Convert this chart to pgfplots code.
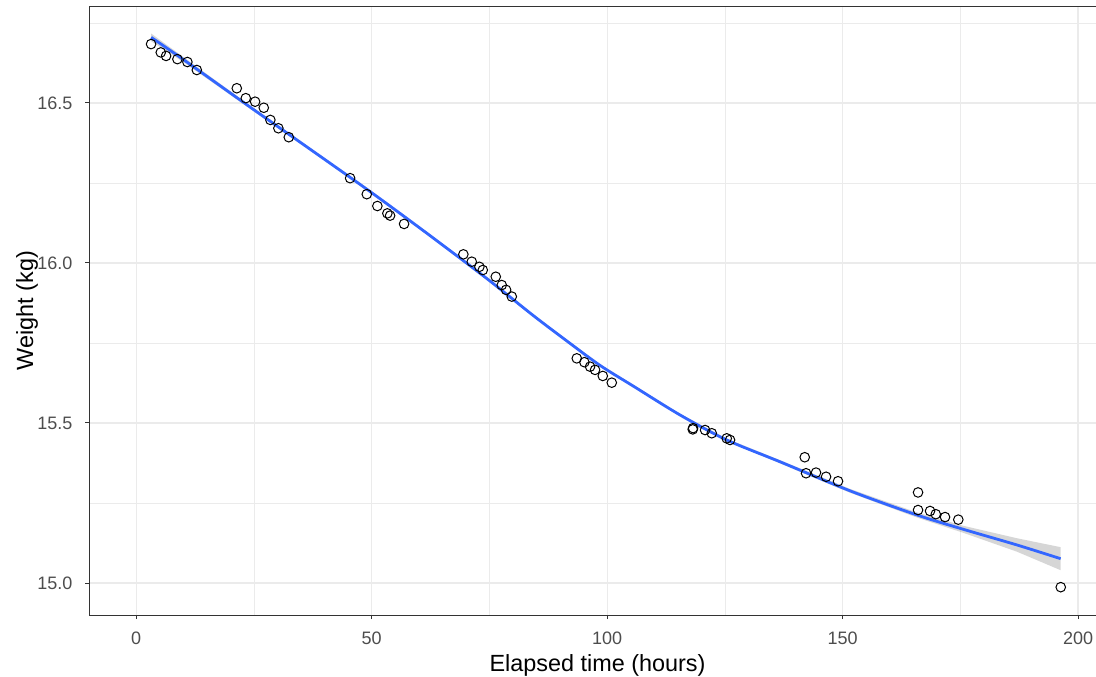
\documentclass[border=0pt]{standalone}
\usepackage{fontspec}
\setmainfont{Liberation Sans}
\usepackage{pgfplots}
\pgfplotsset{compat=1.18}
\usetikzlibrary{calc}

\definecolor{gridgray}{HTML}{EBEBEB}
\definecolor{framegray}{HTML}{333333}
\definecolor{ticklab}{HTML}{4D4D4D}
\definecolor{ribbongray}{HTML}{999999}
\definecolor{fitblue}{HTML}{3366FF}

\begin{document}
\begin{tikzpicture}
\begin{axis}[
  scale only axis, width=508.5pt, height=304.5pt,
  xmin=-10, xmax=205.94, ymin=14.9, ymax=16.803,
  xtick={0,50,100,150,200}, ytick={15,15.5,16,16.5},
  minor xtick={25,75,125,175}, minor ytick={15.25,15.75,16.25,16.75},
  grid=both,
  major grid style={gridgray, line width=0.55pt},
  minor grid style={gridgray, line width=0.3pt},
  axis line style={framegray, line width=0.5pt},
  tick pos=left, tick align=outside,
  major tick length=2pt, minor tick length=0pt,
  tick style={framegray, line width=0.5pt},
  /pgf/number format/assume math mode=true,
  ticklabel style={font=\fontsize{9}{10}\selectfont, text=ticklab},
  yticklabel style={/pgf/number format/fixed, /pgf/number format/fixed zerofill,
                    /pgf/number format/precision=1,
                    anchor=east, inner sep=0pt, xshift=-6.15pt},
  xticklabel style={anchor=north, inner sep=0pt, yshift=-6.5pt},
  xlabel={Elapsed time (hours)},
  ylabel={Weight (kg)},
  xlabel style={at={(axis description cs:0.5,-0.09327)}, anchor=base,
                font=\fontsize{11.7}{13}\selectfont, text=black},
  ylabel style={at={(axis description cs:-0.05506,0.5)}, anchor=base,
                font=\fontsize{11.7}{13}\selectfont, text=black},
]
%% observations
\addplot[only marks, mark=o, mark size=2.4pt, black, mark options={line width=0.5pt}]
  coordinates{
    (3.18,16.684)(5.24,16.658)(6.37,16.647)(8.77,16.637)(10.89,16.628)(12.89,16.603)
    (21.38,16.546)(23.29,16.515)(25.27,16.504)(27.11,16.485)(28.51,16.447)(30.21,16.421)
    (32.42,16.393)
    (45.44,16.265)(48.98,16.215)(51.23,16.178)(53.35,16.155)(53.93,16.148)(56.90,16.122)
    (69.49,16.027)(71.27,16.004)(72.89,15.988)(73.61,15.978)(76.37,15.957)(77.64,15.931)
    (78.56,15.916)(79.77,15.895)
    (93.57,15.702)(95.18,15.690)(96.39,15.676)(97.45,15.666)(99.09,15.647)(101.00,15.626)
    (118.19,15.480)(118.26,15.484)(120.81,15.478)(122.23,15.468)(125.41,15.452)(126.11,15.447)
    (141.97,15.393)(142.25,15.343)(144.37,15.345)(146.50,15.332)(149.04,15.318)
    (166.03,15.283)(166.03,15.228)(168.58,15.225)(169.79,15.215)(171.76,15.206)(174.58,15.198)
    (196.33,14.987)
  };
%% confidence band of the smooth
\addplot[draw=none, fill=ribbongray, fill opacity=0.4]
  coordinates{
    (3.2,16.717)(10,16.644)(24.6,16.488)(37,16.359)(49.7,16.227)(62,16.094)
    (74.5,15.955)(84.4,15.839)(91.4,15.761)(98.5,15.684)(105.6,15.619)(115.5,15.529)
    (125.4,15.451)(136.7,15.384)(151.6,15.294)(165.7,15.221)(175.6,15.179)(187,15.140)
    (196.3,15.112)
    (196.3,15.040)(187,15.098)(175.6,15.157)(165.7,15.205)(151.6,15.282)(136.7,15.374)
    (125.4,15.443)(115.5,15.521)(105.6,15.611)(98.5,15.676)(91.4,15.753)(84.4,15.831)
    (74.5,15.947)(62,16.086)(49.7,16.219)(37,16.351)(24.6,16.478)(10,16.628)(3.2,16.693)
  } -- cycle;
%% smooth fit
\addplot[fitblue, line width=1.4pt, smooth, tension=0.5]
  coordinates{
    (3.2,16.705)(10,16.636)(24.6,16.483)(37,16.355)(49.7,16.223)(62,16.090)
    (74.5,15.951)(84.4,15.835)(91.4,15.757)(98.5,15.680)(105.6,15.615)(115.5,15.525)
    (125.4,15.447)(136.7,15.379)(151.6,15.288)(165.7,15.213)(175.6,15.168)(187,15.119)
    (196.3,15.076)
  };
\end{axis}
\pgfresetboundingbox
\path ($(current axis.south west)+(-44.5pt,-30.5pt)$) rectangle ($(current axis.north west)+(503.5pt,3pt)$);
\end{tikzpicture}
\end{document}
